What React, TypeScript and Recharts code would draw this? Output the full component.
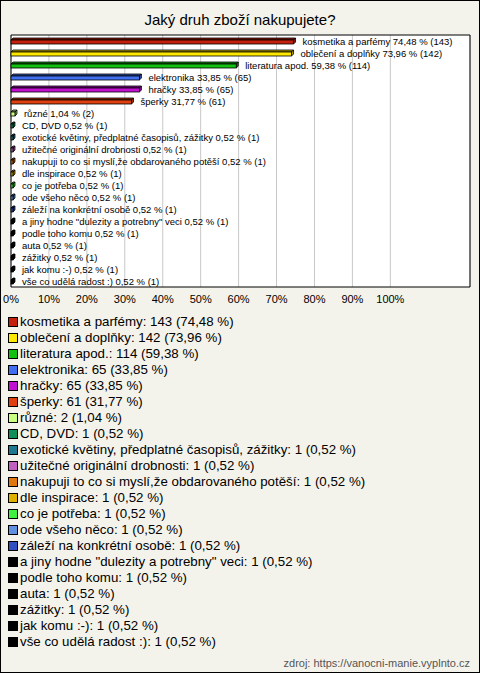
import { BarChart, Bar, XAxis, YAxis, CartesianGrid, ReferenceArea, LabelList, Cell } from 'recharts';

const categories = [
  'kosmetika a parfémy',
  'oblečení a doplňky',
  'literatura apod.',
  'elektronika',
  'hračky',
  'šperky',
  'různé',
  'CD, DVD',
  'exotické květiny, předplatné časopisů, zážitky',
  'užitečné originální drobnosti',
  'nakupuji to co si myslí,že obdarovaného potěší',
  'dle inspirace',
  'co je potřeba',
  'ode všeho něco',
  'záleží na konkrétní osobě',
  'a jiny hodne "dulezity a potrebny" veci',
  'podle toho komu',
  'auta',
  'zážitky',
  'jak komu :-)',
  'vše co udělá radost :)',
];

const counts = [143, 142, 114, 65, 65, 61, 2, 1, 1, 1, 1, 1, 1, 1, 1, 1, 1, 1, 1, 1, 1];

const percents = [74.48, 73.96, 59.38, 33.85, 33.85, 31.77, 1.04, 0.52, 0.52, 0.52, 0.52, 0.52, 0.52, 0.52, 0.52, 0.52, 0.52, 0.52, 0.52, 0.52, 0.52];

const colors = [
  '#c4200c', '#ffe800', '#12c012', '#4070f0', '#c010d0', '#e04010', '#c8ff80',
  '#109058', '#207890', '#c060c0', '#e07810', '#e0b000', '#40f040', '#6090e0',
  '#3050c0', '#000000', '#000000', '#000000', '#000000', '#000000', '#000000',
];

const xTicks = [0, 10, 20, 30, 40, 50, 60, 70, 80, 90, 100];

const FONT = '"Liberation Sans", Arial, sans-serif';

const fmt = (v: number) => v.toFixed(2).replace('.', ',');

const data = categories.map((name, i) => ({
  name,
  pct: percents[i],
  count: counts[i],
  label: `${name} ${fmt(percents[i])} % (${counts[i]})`,
}));

const darken = (color: string, f: number) => {
  const num = parseInt(color.replace('#', ''), 16);
  const R = Math.round((num >> 16) * f);
  const G = Math.round(((num >> 8) & 0xff) * f);
  const B = Math.round((num & 0xff) * f);
  return '#' + (0x1000000 + R * 0x10000 + G * 0x100 + B).toString(16).slice(1);
};

// flat 3d bar: front face + top face + side face
const Bar3D = (props: any) => {
  const { x, y, width, height, fill } = props;
  const d = 2;
  const w = Math.max(width, 1);
  const top = darken(fill, 0.7);
  return (
    <g stroke="#000" strokeWidth={0.8}>
      <polygon points={`${x},${y + d} ${x + d},${y} ${x + w + d},${y} ${x + w},${y + d}`} fill={top} />
      <polygon points={`${x + w},${y + d} ${x + w + d},${y} ${x + w + d},${y + height - d} ${x + w},${y + height}`} fill={top} />
      <rect x={x} y={y + d} width={w} height={height - d} fill={fill} />
    </g>
  );
};

const renderLabel = (props: any) => {
  const vb = props.viewBox ?? props;
  const x = vb.x + vb.width + 9;
  const y = vb.y + vb.height / 2 + 0.5;
  return (
    <text x={x} y={y} fontSize={9.5} fontFamily={FONT} fill="#000" dominantBaseline="central">
      {props.value}
    </text>
  );
};

export default function App() {
  return (
    <div
      style={{
        position: 'absolute',
        left: 0,
        top: 0,
        width: 480,
        height: 673,
        boxSizing: 'border-box',
        border: '1px solid #000',
        background: '#f4f3eb',
        fontFamily: FONT,
      }}
    >
      <div style={{ position: 'absolute', left: 0, top: 9, width: 478, textAlign: 'center', fontSize: 15, lineHeight: '20px', color: '#000' }}>
        Jaký druh zboží nakupujete?
      </div>
      <div style={{ position: 'absolute', left: -1, top: -1 }}>
        <BarChart
          width={480}
          height={317}
          data={data}
          layout="vertical"
          margin={{ top: 35, right: 10, left: 11, bottom: 0 }}
          barSize={6}
        >
          <CartesianGrid horizontal={false} stroke="#c8c8c8" fill="#ffffff" />
          <XAxis
            type="number"
            domain={[0, 121]}
            ticks={xTicks}
            tickFormatter={(v: number) => `${v}%`}
            axisLine={false}
            tickLine={false}
            height={30}
            tick={{ fontSize: 11, fill: '#000', fontFamily: FONT }}
            interval={0}
          />
          <YAxis type="category" dataKey="name" hide width={0} />
          <Bar dataKey="pct" shape={Bar3D} isAnimationActive={false}>
            {data.map((_, i) => (
              <Cell key={i} fill={colors[i]} />
            ))}
            <LabelList dataKey="label" content={renderLabel} />
          </Bar>
          <ReferenceArea x1={0} x2={121} fill="none" fillOpacity={0} stroke="#000" strokeWidth={1} ifOverflow="extendDomain" />
        </BarChart>
      </div>
      <div style={{ position: 'absolute', left: 7, top: 313, fontSize: 13.3, lineHeight: '16px', color: '#000' }}>
        {data.map((d, i) => (
          <div key={i} style={{ display: 'flex', alignItems: 'center', whiteSpace: 'nowrap', height: 16 }}>
            <span
              style={{
                display: 'inline-block',
                width: 8,
                height: 8,
                border: '1px solid #000',
                background: colors[i],
                marginRight: 2,
              }}
            />
            <span>{`${d.name}: ${d.count} (${fmt(d.pct)} %)`}</span>
          </div>
        ))}
      </div>
      <div style={{ position: 'absolute', right: 9, top: 655, fontSize: 11, lineHeight: '14px', color: '#555' }}>
        zdroj: https://vanocni-manie.vyplnto.cz
      </div>
    </div>
  );
}
